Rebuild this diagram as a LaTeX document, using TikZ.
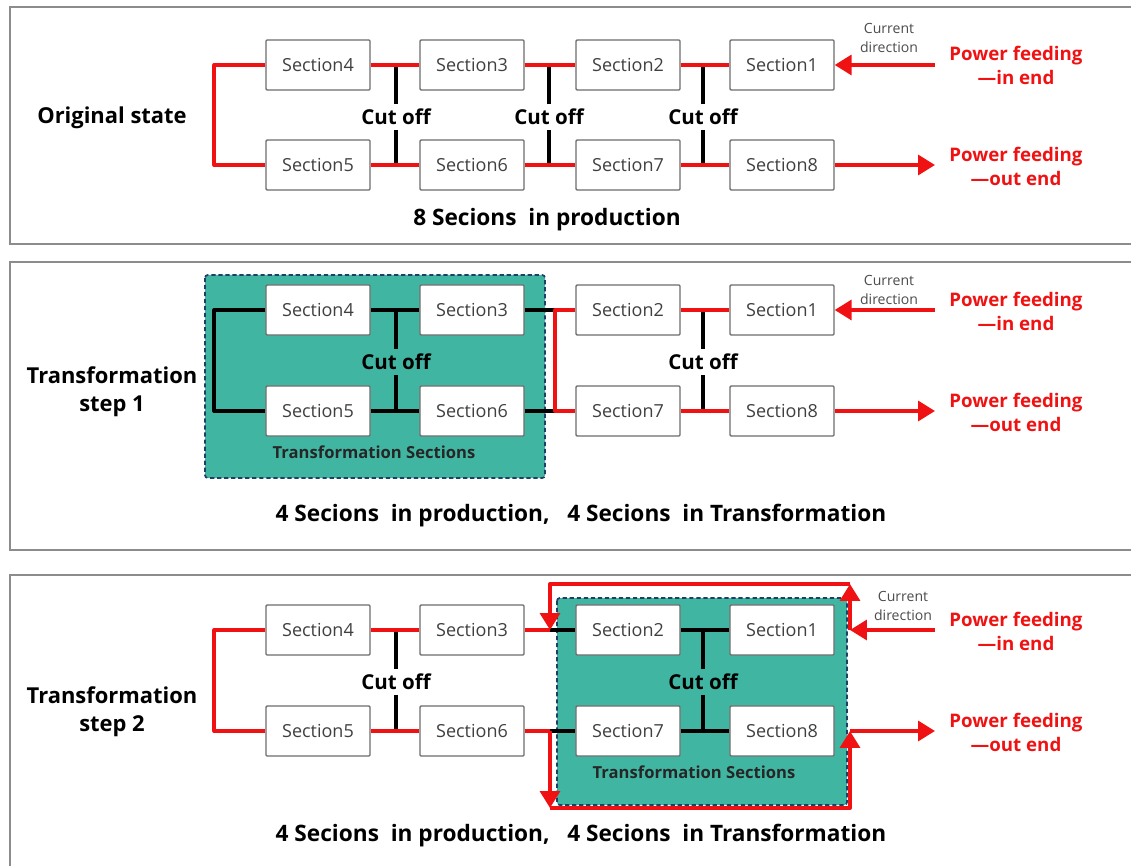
\documentclass[tikz,border=0pt]{standalone}
\usepackage{fontspec}
\setmainfont{Open Sans}
\usetikzlibrary{arrows.meta}

\definecolor{feedred}{RGB}{240,18,18}
\definecolor{sectarea}{RGB}{64,182,162}
\definecolor{areaedge}{RGB}{32,62,102}

\begin{document}
\begin{tikzpicture}[x=0.025cm,y=-0.025cm,
   panel/.style={draw=gray!90,line width=1.1pt},
   sectarea/.style={fill=sectarea,draw=areaedge,densely dashed,line width=1.2pt,rounded corners=2pt},
   secbox/.style={draw=gray!85!black,fill=white,line width=0.9pt,rounded corners=0.8pt,
                  minimum width=2.6cm,minimum height=1.25cm,text=black!75,
                  font=\fontsize{12.8}{14}\selectfont},
   redline/.style={draw=feedred,line width=2.8pt,line join=round},
   blkline/.style={draw=black,line width=2.8pt,line join=round},
   bigarrow/.style={redline,-{Triangle[length=12pt,width=14pt]}},
   cuttext/.style={font=\bfseries\fontsize{14.6}{16}\selectfont},
   statetext/.style={font=\bfseries\fontsize{15.6}{20}\selectfont,align=center},
   sumtext/.style={font=\bfseries\fontsize{16.1}{18}\selectfont},
   feedtext/.style={font=\bfseries\fontsize{13.3}{17}\selectfont,text=feedred,align=center},
   dirtext/.style={font=\fontsize{10}{14}\selectfont,text=black!70,align=center},
   areatext/.style={font=\bfseries\fontsize{11.8}{13}\selectfont,text=black!85}]

\useasboundingbox (0,0) rectangle (1131,866);

% panels
\draw[panel] (10,7) rectangle (1140,244);
\draw[panel] (10,262) rectangle (1140,550);
\draw[panel] (10,575) rectangle (1140,872);

% sections in transformation
\draw[sectarea] (205,275) rectangle (545,478);
\draw[sectarea] (557,598) rectangle (847,805);

% boxes
\foreach \n/\x in {4/318,3/472,2/628,1/782} {
  \node[secbox] (a\n) at (\x,65) {Section\n};
  \node[secbox] (b\n) at (\x,310) {Section\n};
  \node[secbox] (c\n) at (\x,630) {Section\n};
}
\foreach \n/\x in {5/318,6/472,7/628,8/782} {
  \node[secbox] (a\n) at (\x,165) {Section\n};
  \node[secbox] (b\n) at (\x,411) {Section\n};
  \node[secbox] (c\n) at (\x,731) {Section\n};
}

% texts
\node[statetext] (astate) at (112,118) {Original state};
\node[statetext] (bstate) at (112,392) {Transformation\\step 1};
\node[statetext] (cstate) at (112,712) {Transformation\\step 2};

\node[sumtext] (asum) at (547,220) {8 Secions\ \ in production};
\node[sumtext] (bsum) at (581,516) {4 Secions\ \ in production,\ \ \ 4 Secions\ \ in Transformation};
\node[sumtext] (csum) at (581,836) {4 Secions\ \ in production,\ \ \ 4 Secions\ \ in Transformation};

\node[areatext] (barea) at (374,452) {Transformation Sections};
\node[areatext] (carea) at (694,772) {Transformation Sections};

\node[dirtext] (adir) at (889,38) {Current\\direction};
\node[dirtext] (bdir) at (889,290) {Current\\direction};
\node[dirtext] (cdir) at (903,606) {Current\\direction};

\node[feedtext] (ain) at (1016,65) {Power feeding\\—in end};
\node[feedtext] (aout) at (1016,166) {Power feeding\\—out end};
\node[feedtext] (bin) at (1016,311) {Power feeding\\—in end};
\node[feedtext] (bout) at (1016,412) {Power feeding\\—out end};
\node[feedtext] (cin) at (1016,631) {Power feeding\\—in end};
\node[feedtext] (cout) at (1016,732) {Power feeding\\—out end};

% cut off
\node[cuttext] (acut1) at (396,117) {Cut off};
\node[cuttext] (acut2) at (549,117) {Cut off};
\node[cuttext] (acut3) at (703,117) {Cut off};
\node[cuttext] (bcut1) at (396,362) {Cut off};
\node[cuttext] (bcut2) at (703,362) {Cut off};
\node[cuttext] (ccut1) at (396,682) {Cut off};
\node[cuttext] (ccut2) at (703,682) {Cut off};
\foreach \c/\t/\b in {acut1/a4/a5,acut2/a4/a5,acut3/a4/a5,bcut1/b4/b5,bcut2/b4/b5,ccut1/c4/c5,ccut2/c4/c5} {
  \draw[blkline] (\c.north) -- (\c |- \t.east);
  \draw[blkline] (\c.south) -- (\c |- \b.east);
}

% original state
\draw[redline] (a4.west) -- ++(-51,0) |- (a5.west);
\foreach \l/\r in {4/3,3/2,2/1,5/6,6/7,7/8}
  \draw[redline] (a\l.east) -- (a\r.west);
\coordinate (ain0) at (935,65);
\coordinate (aout0) at (935,165);
\draw[bigarrow] (ain0) -- (a1.east);
\draw[bigarrow] (a8.east) -- (aout0);

% step 1
\draw[blkline] (b4.west) -- ++(-51,0) |- (b5.west);
\draw[blkline] (b4.east) -- (b3.west);
\draw[blkline] (b5.east) -- (b6.west);
\coordinate (bn) at (555,310);
\coordinate (bs) at (555,411);
\draw[blkline] (b3.east) -- (bn);
\draw[blkline] (b6.east) -- (bs);
\draw[redline] (b2.west) -- (bn) -- (bs) -- (b7.west);
\draw[redline] (b2.east) -- (b1.west);
\draw[redline] (b7.east) -- (b8.west);
\coordinate (bin0) at (935,310);
\coordinate (bout0) at (935,411);
\draw[bigarrow] (bin0) -- (b1.east);
\draw[bigarrow] (b8.east) -- (bout0);

% step 2
\draw[redline] (c4.west) -- ++(-51,0) |- (c5.west);
\draw[redline] (c4.east) -- (c3.west);
\draw[redline] (c5.east) -- (c6.west);
\draw[blkline] (c2.east) -- (c1.west);
\draw[blkline] (c7.east) -- (c8.west);
\coordinate (cn) at (550,630);
\coordinate (cs) at (550,731);
\coordinate (cne) at (850,630);
\coordinate (cse) at (850,731);
\coordinate (cnt) at (850,584);
\coordinate (csb) at (550,808);
\coordinate (cin0) at (935,630);
\coordinate (cout0) at (935,731);
\draw[redline] (c3.east) -- (cn);
\draw[redline] (c6.east) -- (cs);
\draw[blkline] (cn) -- (c2.west);
\draw[blkline] (cs) -- (c7.west);
\draw[bigarrow] (cin0) -- (cne);
\draw[bigarrow] (cne) -- (cnt);
\draw[bigarrow] (cnt) -| (cn);
\draw[bigarrow] (cs) -- (csb);
\draw[bigarrow] (csb) -| (cse);
\draw[bigarrow] (cse) -- (cout0);

\end{tikzpicture}
\end{document}
